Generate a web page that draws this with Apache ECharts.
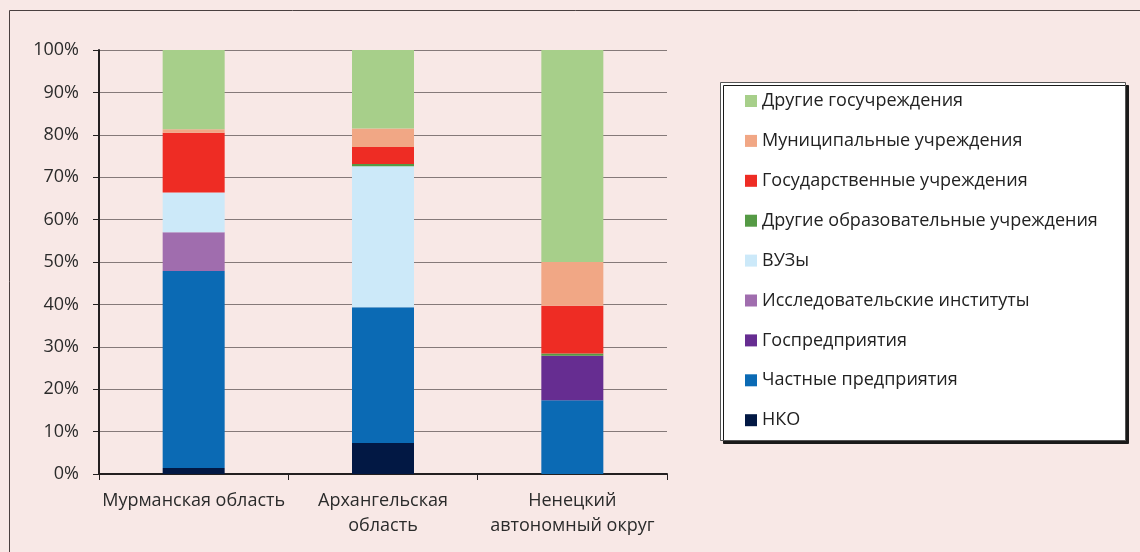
<!DOCTYPE html>
<html>
<head>
<meta charset="utf-8">
<script src="https://cdn.jsdelivr.net/npm/echarts@6/dist/echarts.min.js"></script>
<style>
  html, body { margin: 0; padding: 0; background: #f8e8e6; }
  #chart { width: 1140px; height: 552px; }
</style>
</head>
<body>
<div id="chart"></div>
<script>
// регионы
var regions = ['Мурманская область', 'Архангельская\nобласть', 'Ненецкий\nавтономный округ'];
// доли, % (снизу вверх)
var nko        = [1.4, 7.3, 0];
var privateEnt = [46.5, 32.0, 17.4];
var stateEnt   = [0, 0, 10.5];
var research   = [9.1, 0, 0];
var vuz        = [9.4, 33.3, 0];
var otherEdu   = [0, 0.5, 0.5];
var stateInst  = [14.1, 4.0, 11.3];
var municipal  = [0.8, 4.4, 10.3];
var otherGov   = [18.7, 18.5, 50.0];

var seriesNames = ['НКО', 'Частные предприятия', 'Госпредприятия', 'Исследовательские институты', 'ВУЗы',
    'Другие образовательные учреждения', 'Государственные учреждения', 'Муниципальные учреждения', 'Другие госучреждения'];
var seriesData = [nko, privateEnt, stateEnt, research, vuz, otherEdu, stateInst, municipal, otherGov];
var colors = ['#021844', '#0b6ab4', '#662d91', '#a06dae', '#cce9f9', '#559a45', '#ee2c24', '#f1a785', '#a7cf8a'];

var font = '"Open Sans", sans-serif';
var myChart = echarts.init(document.getElementById('chart'));

var series = [];
for (var i = 0; i < seriesNames.length; i++) {
    series.push({
        name: seriesNames[i],
        type: 'bar',
        stack: 'total',
        barWidth: 62,
        itemStyle: { color: colors[i] },
        data: seriesData[i]
    });
}

var option = {
    backgroundColor: '#f8e8e6',
    animation: false,
    textStyle: { fontFamily: font },
    graphic: [
        {
            type: 'rect',
            shape: { x: 9.5, y: 10.5, width: 1200, height: 600 },
            style: { fill: 'none', stroke: '#4a4040', lineWidth: 1 },
            silent: true
        },
        {
            type: 'rect',
            shape: { x: 720.5, y: 82.5, width: 405, height: 358 },
            style: { fill: '#ffffff', stroke: '#555', lineWidth: 1,
                shadowColor: '#1a1a1a', shadowOffsetX: 3, shadowOffsetY: 3, shadowBlur: 0 },
            z: 0,
            silent: true
        }
    ],
    grid: { left: 99, right: 473, top: 50, bottom: 78 },
    legend: {
        orient: 'vertical',
        left: 735,
        top: 92,
        padding: [0, 0, 0, 10],
        itemGap: 21.9,
        itemWidth: 12,
        itemHeight: 12,
        icon: 'rect',
        z: 5,
        textStyle: { fontFamily: font, fontSize: 18, lineHeight: 16, color: '#222' },
        data: seriesNames.slice().reverse()
    },
    xAxis: {
        type: 'category',
        data: regions,
        axisLine: { lineStyle: { color: '#231f20', width: 2 } },
        axisTick: { show: true, length: 6, lineStyle: { color: '#231f20', width: 1 } },
        axisLabel: { interval: 0, fontFamily: font, fontSize: 18, color: '#2b2b2b', lineHeight: 25, margin: 14 }
    },
    yAxis: {
        type: 'value',
        min: 0,
        max: 100,
        interval: 10,
        axisLine: { show: true, lineStyle: { color: '#231f20', width: 2 } },
        axisTick: { show: true, length: 6, lineStyle: { color: '#231f20', width: 1 } },
        splitLine: { lineStyle: { color: '#857979', width: 1 } },
        axisLabel: { fontFamily: font, fontSize: 18, color: '#2b2b2b', margin: 20, formatter: '{value}%' }
    },
    series: series
};

myChart.setOption(option);
</script>
</body>
</html>
